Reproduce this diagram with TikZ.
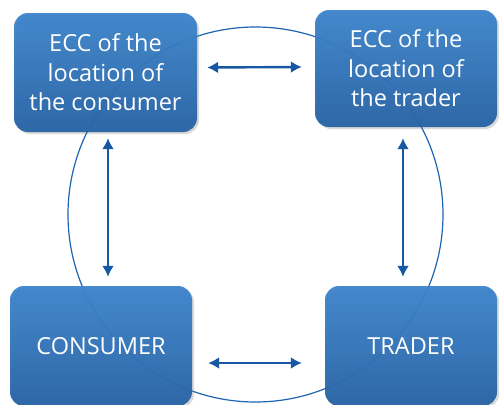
\documentclass[tikz,border=0pt]{standalone}
\usepackage{fontspec}
\setmainfont{Open Sans}
\usetikzlibrary{arrows.meta,shadows}

\definecolor{boxtop}{RGB}{60,132,204}
\definecolor{boxmid}{RGB}{44,116,188}
\definecolor{boxbot}{RGB}{38,98,164}
\definecolor{linkblue}{RGB}{22,88,164}
\definecolor{ringblue}{RGB}{30,100,176}

\tikzset{
    party/.style={rounded corners=14pt, top color=boxtop, middle color=boxmid,
        bottom color=boxbot, fill opacity=0.95, text opacity=1, text=white,
        align=center, inner sep=0pt, font=\fontsize{23.5}{29.5}\selectfont,
        drop shadow={opacity=0.3, shadow xshift=2pt, shadow yshift=-2pt}},
    link/.style={draw=linkblue, line width=2.4pt,
        {Latex[length=11pt,width=12pt]}-{Latex[length=11pt,width=12pt]}},
}

\begin{document}
\begin{tikzpicture}[x=1pt, y=-1pt]
    \useasboundingbox (0,0) rectangle (499,405);

    \draw[ringblue, line width=1.2pt] (255.5,214.5) circle (187.5);

    \node[party, minimum width=183, minimum height=119] (ecccons) at (105.5,72.5)
        {ECC of the\\location of\\the consumer};
    \node[party, minimum width=182, minimum height=117] (ecctrad) at (406,68.5)
        {ECC of the\\location of\\the trader};
    \node[party, minimum width=182, minimum height=120] (cons) at (101,346) {CONSUMER};
    \node[party, minimum width=172, minimum height=120] (trad) at (411,346) {TRADER};

    \draw[link] ([shift={(10,-5)}]ecccons.east) -- ([shift={(-13,-1.5)}]ecctrad.west);
    \draw[link] ([shift={(16,17)}]cons.east) -- ([shift={(-23,17)}]trad.west);
    \draw[link] ([shift={(2.5,6)}]ecccons.south) -- ([shift={(7,-9)}]cons.north);
    \draw[link] ([shift={(-3,11)}]ecctrad.south) -- ([shift={(-8,-9)}]trad.north);
\end{tikzpicture}
\end{document}
